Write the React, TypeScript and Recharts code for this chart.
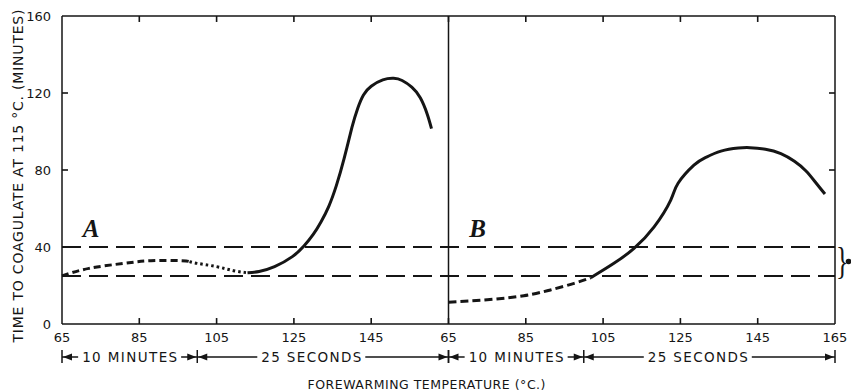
import React from 'react';
import { ComposedChart, Line, XAxis, YAxis, ReferenceLine, ReferenceDot } from 'recharts';

// Temperatures in °C, times in minutes. Panel B sits 100 units to the right of panel A.
const panelOffset = 100;
const xMin = 65;
const xMax = 265;
const yMin = 0;
const yMax = 160;

const aDashedTemp = [65, 72, 81, 88, 95.6, 98];
const aDashedTime = [25, 28.9, 31.5, 32.9, 32.9, 32.4];
const aDottedTemp = [98, 100, 105, 109.4, 113];
const aDottedTime = [32.4, 31.5, 29.8, 27.7, 26.6];
const aSolidTemp = [113, 116, 120, 124.6, 127.6, 130, 132, 134, 136, 138, 140, 141.5, 143, 145, 148, 150.8, 153, 155.5, 157.7, 159.5, 160.6];
const aSolidTime = [26.6, 27.3, 29.8, 35, 40.5, 46.5, 53, 61, 72, 86, 102, 112, 119, 123.5, 126.8, 127.6, 126.5, 123, 117.5, 109, 101.5];

const bDashedTemp = [65, 75, 84.5, 91.4, 97.5, 101.8];
const bDashedTime = [11.3, 12.6, 14.7, 17.7, 21.1, 24];
const bSolidTemp = [101.8, 107.8, 113, 118.2, 122.5, 124.4, 128.5, 131.5, 135.5, 140, 143, 147, 151, 154.5, 157.5, 160, 162.4];
const bSolidTime = [24, 31.5, 39.3, 50.5, 64.4, 73.1, 82.5, 86.5, 89.8, 91.4, 91.6, 90.8, 88.5, 84.5, 79.5, 73.5, 67.5];

const limitTimes = [40, 25];
const xTicks = [65, 85, 105, 125, 145, 165, 185, 205, 225, 245, 265];
const yTicks = [0, 40, 80, 120, 160];
const panelNames = ['A', 'B'];
const spanEdges = [65, 100, 165];
const spanLabels = ['10 MINUTES', '25 SECONDS'];
const spanLabelAt = [82.5, 129.5];
const spanLabelLen = [95, 100];

const ink = '#151515';
const font = 'DejaVu Sans';

// inner tick length, in axis units (about 6 px)
const xTickLen = 1.55;
const yTickLen = 3.1;

const toPoints = (temps: number[], times: number[], offset = 0) =>
  temps.map((t, i) => ({ x: t + offset, y: times[i] }));

const tickLabel = (v: number) => String(v >= 165 ? v - panelOffset : v);

function SpanRow({ viewBox }: any) {
  const { x, y, width } = viewBox;
  const px = (v: number) => x + ((v - xMin) / (xMax - xMin)) * width;
  const rowY = y + 33;
  const items: React.ReactNode[] = [];
  [0, panelOffset].forEach((off) => {
    spanLabels.forEach((lab, i) => {
      const a = px(spanEdges[i] + off);
      const b = px(spanEdges[i + 1] + off);
      const c = px(spanLabelAt[i] + off);
      const w = spanLabelLen[i] + 8;
      items.push(
        <g key={`span-${off}-${i}`}>
          <line x1={a} x2={b} y1={rowY} y2={rowY} stroke={ink} strokeWidth={1.3} />
          <polygon points={`${a + 1},${rowY} ${a + 10},${rowY - 3.5} ${a + 10},${rowY + 3.5}`} fill={ink} />
          <polygon points={`${b - 1},${rowY} ${b - 10},${rowY - 3.5} ${b - 10},${rowY + 3.5}`} fill={ink} />
          <rect x={c - w / 2} y={rowY - 8} width={w} height={16} fill="#fff" />
          <text
            x={c}
            y={rowY}
            textAnchor="middle"
            dominantBaseline="central"
            fontFamily={font}
            fontSize={13.5}
            fill={ink}
            textLength={spanLabelLen[i]}
            lengthAdjust="spacing"
          >
            {lab}
          </text>
        </g>
      );
    });
    spanEdges.forEach((e, i) => {
      items.push(
        <line key={`bar-${off}-${i}`} x1={px(e + off)} x2={px(e + off)} y1={rowY - 7} y2={rowY + 6} stroke={ink} strokeWidth={1.5} />
      );
    });
  });
  return (
    <g>
      {items}
      <text
        x={x + width / 2 - 22}
        y={y + 60}
        textAnchor="middle"
        dominantBaseline="central"
        fontFamily={font}
        fontSize={12.5}
        fill={ink}
        textLength={238}
        lengthAdjust="spacing"
      >
        FOREWARMING TEMPERATURE (°C.)
      </text>
    </g>
  );
}

function YTitle({ viewBox }: any) {
  const { x, y, height } = viewBox;
  const cx = x + 18;
  const cy = y + height / 2 + 6;
  return (
    <text
      x={cx}
      y={cy}
      transform={`rotate(-90, ${cx}, ${cy})`}
      textAnchor="middle"
      dominantBaseline="central"
      fontFamily={font}
      fontSize={14}
      fill={ink}
      textLength={333}
      lengthAdjust="spacing"
    >
      TIME TO COAGULATE AT 115 °C. (MINUTES)
    </text>
  );
}

function Brace({ viewBox }: any) {
  const { x, y, width } = viewBox;
  const bx = x + width + 1;
  return (
    <text
      transform={`translate(${bx}, ${y}) scale(1, 1.45)`}
      x={0}
      y={0}
      dominantBaseline="central"
      fontFamily="Liberation Serif"
      fontSize={26}
      fill={ink}
    >
      {'}'}
    </text>
  );
}

export default function App() {
  const tickStyle = { fontFamily: font, fontSize: 13, fill: ink };
  const frame = { stroke: ink, strokeWidth: 1.5 };
  const innerX = xTicks.slice(1, -1);
  const innerY = yTicks.slice(1, -1);
  return (
    <div style={{ position: 'fixed', left: 0, top: 0, width: 851, height: 391, background: '#fff' }}>
      <ComposedChart width={851} height={391} margin={{ top: 0, right: 0, bottom: 0, left: 0 }}>
        <XAxis
          dataKey="x"
          type="number"
          domain={[xMin, xMax]}
          ticks={xTicks}
          interval={0}
          tickFormatter={tickLabel}
          height={67}
          tickSize={0}
          tickMargin={9}
          tick={tickStyle}
          axisLine={frame}
          tickLine={false}
          label={(props: any) => <SpanRow {...props} />}
        />
        <XAxis xAxisId="top" orientation="top" type="number" domain={[xMin, xMax]} height={16} tick={false} tickLine={false} axisLine={frame} />
        <YAxis
          type="number"
          domain={[yMin, yMax]}
          ticks={yTicks}
          interval={0}
          width={62}
          tickSize={0}
          tickMargin={11}
          tick={tickStyle}
          axisLine={frame}
          tickLine={false}
          label={(props: any) => <YTitle {...props} />}
        />
        <YAxis yAxisId="right" orientation="right" type="number" domain={[yMin, yMax]} width={16} tick={false} tickLine={false} axisLine={frame} />

        {/* inner tick marks on all four sides of the frame */}
        {innerX.map((v) => (
          <ReferenceLine key={`tb-${v}`} segment={[{ x: v, y: yMin }, { x: v, y: yMin + yTickLen }]} stroke={ink} strokeWidth={1.6} />
        ))}
        {innerX.map((v) => (
          <ReferenceLine key={`tt-${v}`} segment={[{ x: v, y: yMax }, { x: v, y: yMax - yTickLen }]} stroke={ink} strokeWidth={1.6} />
        ))}
        {innerY.map((v) => (
          <ReferenceLine key={`tl-${v}`} segment={[{ x: xMin, y: v }, { x: xMin + xTickLen, y: v }]} stroke={ink} strokeWidth={1.6} />
        ))}
        {innerY.map((v) => (
          <ReferenceLine key={`tr-${v}`} segment={[{ x: xMax, y: v }, { x: xMax - xTickLen, y: v }]} stroke={ink} strokeWidth={1.6} />
        ))}

        <ReferenceLine x={165} stroke={ink} strokeWidth={1.5} />
        {limitTimes.map((t) => (
          <ReferenceLine key={t} y={t} stroke={ink} strokeWidth={2} strokeDasharray="19 8" />
        ))}
        <ReferenceLine y={32.5} stroke="none" label={(props: any) => <Brace {...props} />} />
        <ReferenceDot x={268.5} y={32.5} r={2.8} fill={ink} stroke="none" ifOverflow="visible" />
        {panelNames.map((n, i) => (
          <ReferenceDot
            key={n}
            x={72.5 + i * panelOffset}
            y={50}
            r={0}
            fill="none"
            stroke="none"
            label={{ value: n, position: 'center', fontSize: 25, fontStyle: 'italic', fontWeight: 'bold', fontFamily: 'Liberation Serif', fill: ink }}
          />
        ))}

        <Line data={toPoints(aDashedTemp, aDashedTime)} dataKey="y" type="natural" stroke={ink} strokeWidth={3} strokeDasharray="7 4" dot={false} isAnimationActive={false} />
        <Line data={toPoints(aDottedTemp, aDottedTime)} dataKey="y" type="natural" stroke={ink} strokeWidth={3} strokeDasharray="2.5 3" dot={false} isAnimationActive={false} />
        <Line data={toPoints(aSolidTemp, aSolidTime)} dataKey="y" type="natural" stroke={ink} strokeWidth={3} dot={false} isAnimationActive={false} />
        <Line data={toPoints(bDashedTemp, bDashedTime, panelOffset)} dataKey="y" type="natural" stroke={ink} strokeWidth={3} strokeDasharray="8 4" dot={false} isAnimationActive={false} />
        <Line data={toPoints(bSolidTemp, bSolidTime, panelOffset)} dataKey="y" type="natural" stroke={ink} strokeWidth={3} dot={false} isAnimationActive={false} />
      </ComposedChart>
    </div>
  );
}
